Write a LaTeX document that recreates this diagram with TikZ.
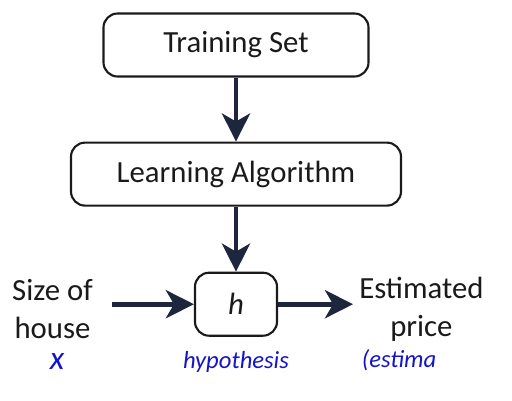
\documentclass[tikz,border=0pt]{standalone}
\usepackage{fontspec}
\setmainfont{Carlito}
\usetikzlibrary{positioning, arrows.meta}
\definecolor{navy}{RGB}{30,38,62}
\definecolor{ink}{RGB}{26,26,26}
\definecolor{pen}{RGB}{20,20,200}

\begin{document}
\begin{tikzpicture}[
    >={Stealth[length=0.56cm, width=0.56cm, inset=0.16cm]},
    box/.style={draw=ink, line width=1.2pt, rounded corners=8pt, minimum height=1.26cm, align=center, text=ink, font=\fontsize{17.5}{21.6}\selectfont},
    txt/.style={align=center, text=ink, font=\fontsize{17.5}{21.6}\selectfont},
    note/.style={text=pen, inner sep=1pt, font=\fontsize{14}{16}\selectfont\itshape},
    arrow/.style={->, draw=navy, line width=2.8pt}
]
\useasboundingbox (0,0) rectangle (10.24,-8.02);
\node[box, minimum width=5.3cm] (train) at (4.72,-0.90) {Training Set};
\node[box, minimum width=6.6cm, below=1.28cm of train] (learn) {Learning Algorithm};
\node[box, minimum width=1.64cm, below=1.3cm of learn] (hyp) {\itshape h};
\node[txt, left=1.9cm of hyp, yshift=-0.1cm] (size) {Size of\\house};
\node[txt, right=1.5cm of hyp, yshift=-0.1cm] (price) {Estimated\\price};
% handwritten notes
\node[note, font=\fontsize{19}{22}\selectfont\itshape] (xnote) at (1.14,-7.24) {x};
\node[note, below=0.25cm of hyp] (hypnote) {hypothesis};
\node[note] (estnote) at (7.98,-7.2) {(estima};
\draw[arrow] (train) -- (learn);
\draw[arrow] (learn) -- (hyp);
\draw[arrow] ([xshift=0.26cm]size.east |- hyp.west) -- (hyp.west);
\draw[arrow] (hyp.east) -- (price.west |- hyp.east);
\end{tikzpicture}
\end{document}
